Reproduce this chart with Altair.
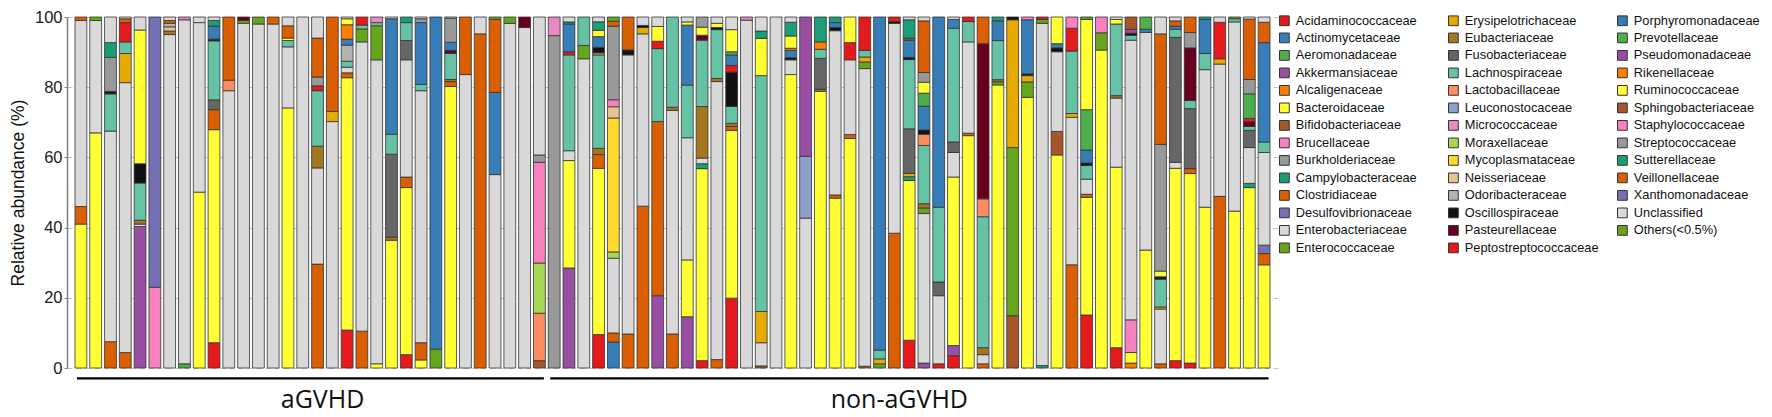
import altair as alt
import pandas as pd

# ---------------- categories ----------------
FAMILIES = [
    "Acidaminococcaceae", "Actinomycetaceae", "Aeromonadaceae", "Akkermansiaceae",
    "Alcaligenaceae", "Bacteroidaceae", "Bifidobacteriaceae", "Brucellaceae",
    "Burkholderiaceae", "Campylobacteraceae", "Clostridiaceae", "Desulfovibrionaceae",
    "Enterobacteriaceae", "Enterococcaceae",
    "Erysipelotrichaceae", "Eubacteriaceae", "Fusobacteriaceae", "Lachnospiraceae",
    "Lactobacillaceae", "Leuconostocaceae", "Micrococcaceae", "Moraxellaceae",
    "Mycoplasmataceae", "Neisseriaceae", "Odoribacteraceae", "Oscillospiraceae",
    "Pasteurellaceae", "Peptostreptococcaceae",
    "Porphyromonadaceae", "Prevotellaceae", "Pseudomonadaceae", "Rikenellaceae",
    "Ruminococcaceae", "Sphingobacteriaceae", "Staphylococcaceae", "Streptococcaceae",
    "Sutterellaceae", "Veillonellaceae", "Xanthomonadaceae", "Unclassified",
    "Others(<0.5%)",
]

PALETTE = [
    "#E41A1C", "#377EB8", "#4DAF4A", "#984EA3", "#FF7F00", "#FFFF33", "#A65628",
    "#F781BF", "#999999", "#1B9E77", "#D95F02", "#7570B3", "#D9D9D9", "#66A61E",
    "#E6AB02", "#A6761D", "#666666", "#66C2A5", "#FC8D62", "#8DA0CB", "#E78AC3",
    "#A6D854", "#FFD92F", "#E5C494", "#B3B3B3", "#111111", "#67001F",
]

N_AGVHD = 32
N_NON = 49
GROUP_NAMES = ["aGVHD", "non-aGVHD"]

# ---------------- per-family abundance (sample number -> %) ----------------
Acidaminococcaceae = {10: 7.2, 19: 10.8, 23: 3.8, 36: 9.7, 43: 2.1, 45: 19.9, 57: 7.9,
                      59: 1.2, 60: 3.5, 69: 15.1, 71: 5.8, 75: 2.1, 76: 1.4}
Actinomycetaceae = {37: 7.4}
Aeromonadaceae = {8: 1.2}
Akkermansiaceae = {5: 40.3, 34: 28.5, 40: 20.6, 42: 14.6, 58: 1.4, 60: 2.9}
Alcaligenaceae = {72: 1.4}
Bacteroidaceae = {1: 41, 2: 67, 9: 50.1, 10: 60.7, 15: 74.1, 19: 71.9, 21: 1.2, 22: 36.4,
                  23: 47.6, 24: 2.3, 26: 80.2, 34: 30.6, 36: 48.2, 42: 16.2, 43: 54.7,
                  45: 47.8, 49: 83.6, 51: 78.8, 52: 48.4, 53: 65.4, 57: 45.4, 60: 48.0,
                  61: 66.2, 63: 80.4, 65: 77.1, 67: 60.7, 69: 33.5, 70: 90.6, 71: 51.4,
                  72: 3.0, 73: 33.6, 75: 54.8, 76: 54.0, 77: 45.8, 79: 44.7, 80: 51.4,
                  81: 29.4}
Bifidobacteriaceae = {32: 2.1, 47: 0.6, 54: 0.5, 64: 14.9, 67: 6.7}
Brucellaceae = {6: 23, 72: 9.3}
Burkholderiaceae = {33: 94.7}
Campylobacteraceae = {43: 1.4, 57: 1.1, 66: 0.7, 80: 1.2}
Clostridiaceae = {1: 5, 3: 7.5, 4: 4.4, 10: 5.7, 17: 29.6, 19: 1.4, 20: 10.5, 23: 3.0,
                  24: 4.9, 26: 1.4, 28: 95.2, 36: 4.0, 37: 2.6, 38: 9.7, 39: 46.1, 40: 49.6,
                  41: 9.7, 44: 2.4, 45: 1.1, 52: 0.9, 53: 1.1, 56: 38.4, 61: 0.7, 62: 1.2,
                  68: 29.4, 69: 0.9, 74: 1.2, 76: 1.4, 78: 48.9, 81: 3.2}
Desulfovibrionaceae = {6: 77, 81: 2.4}
Enterobacteriaceae = {1: 53, 2: 32, 3: 60, 4: 76.9, 5: 0.7, 7: 95, 8: 98, 9: 48.3, 11: 79,
                      12: 98.2, 13: 98, 14: 98, 15: 17.4, 16: 100, 17: 27.4, 18: 70.2,
                      19: 1.6, 20: 82.4, 21: 86.6, 23: 33.4, 24: 71.8, 27: 83.6, 29: 55.1,
                      30: 98.2, 31: 97, 34: 2.8, 35: 88.1, 37: 21.3, 38: 79.5, 39: 49.1,
                      41: 63.7, 42: 34.8, 43: 1.6, 44: 79.2, 46: 99.1, 47: 6.6, 48: 100,
                      49: 4.2, 50: 42.7, 52: 46.8, 53: 21.3, 54: 84.8, 56: 59.8, 58: 42.6,
                      59: 19.4, 60: 7.0, 61: 26.0, 62: 2.6, 66: 97.5, 67: 22.7, 68: 42.0,
                      69: 4.3, 71: 19.7, 72: 79.6, 73: 62.0, 74: 15.6, 75: 1.7, 77: 39.2,
                      78: 37.7, 79: 53.9, 80: 10.2, 81: 26.4}
Enterococcaceae = {12: 0.8, 20: 3.7, 21: 9.7, 25: 5.4, 35: 3.8, 54: 1.9, 55: 1.2, 58: 1.6,
                   63: 0.9, 64: 47.9, 65: 4.4, 66: 1.1, 70: 4.9}
Erysipelotrichaceae = {4: 8.3, 18: 2.9, 39: 1.8, 47: 8.9, 54: 1.4, 55: 1.4, 57: 0.9,
                       64: 36.4, 65: 1.8, 68: 1.1, 74: 0.6, 78: 1.5}
Eubacteriaceae = {5: 1.1, 7: 1, 17: 6.2, 22: 0.9, 26: 0.6, 36: 1.8, 41: 0.9, 43: 14.7,
                  44: 0.9, 45: 0.9, 51: 0.6, 58: 1.2, 62: 2.0, 63: 0.6, 71: 0.7}
Fusobacteriaceae = {10: 2.8, 22: 23.6, 23: 5.5, 51: 8.8, 57: 12.7, 59: 3.9, 60: 3.0,
                    75: 35.6, 76: 17.1, 80: 4.9}
Lachnospiraceae = {3: 10.6, 4: 3.3, 5: 10.6, 10: 16.8, 15: 1.8, 17: 15.8, 19: 1.7, 20: 1.1,
                   21: 0.9, 22: 5.7, 23: 5.1, 24: 1.8, 26: 7.4, 34: 27.3, 35: 8.1, 36: 27.1,
                   40: 20.8, 41: 25.7, 42: 15.0, 43: 18.9, 44: 13.9, 45: 4.8, 47: 67.2,
                   51: 2.6, 54: 1.9, 55: 2.5, 57: 19.7, 58: 16.6, 59: 21.3, 60: 32.4,
                   61: 5.8, 62: 37.3, 63: 11.1, 68: 17.8, 69: 3.9, 71: 20.4, 72: 1.4,
                   74: 7.9, 75: 2.3, 76: 2.3, 77: 4.6, 79: 0.9, 80: 1.1, 81: 3.0}
Lactobacillaceae = {11: 3, 32: 13.5, 36: 0.6, 58: 3.2, 62: 5.1}
Leuconostocaceae = {50: 17.6}
Micrococcaceae = {8: 0.8, 21: 1.6, 33: 5.3, 46: 0.9}
Moraxellaceae = {32: 14.3, 37: 1.8}
Mycoplasmataceae = {37: 38.2}
Neisseriaceae = {7: 1.2, 37: 3.2}
Odoribacteraceae = {7: 1, 19: 4.6}
Oscillospiraceae = {3: 0.7, 5: 5.5, 10: 0.5, 36: 1.6, 38: 1.4, 39: 0.6, 44: 0.6, 45: 9.8,
                    49: 0.6, 52: 0.9, 56: 0.5, 57: 0.6, 58: 1.2, 64: 0.8, 65: 0.5, 67: 1.1,
                    69: 0.7, 72: 0.6, 74: 0.7}
Pasteurellaceae = {12: 1.0, 26: 0.9, 31: 3, 43: 1.4, 62: 44.2, 76: 15.0, 80: 1.4}
Peptostreptococcaceae = {4: 5.5, 17: 1.4, 20: 2.3, 34: 0.9, 40: 2.1, 45: 1.9, 53: 4.9,
                         54: 9.5, 56: 1.3, 61: 1.3, 66: 0.7, 68: 6.5, 78: 10.4, 80: 0.9}
Porphyromonadaceae = {10: 3.7, 19: 1.7, 22: 32.9, 24: 17.6, 25: 94.6, 26: 2.3, 29: 23.4,
                      34: 7.9, 36: 3.1, 42: 17.1, 45: 3.0, 49: 2.1, 52: 1.4, 55: 94.9,
                      57: 4.9, 58: 6.8, 59: 54.2, 60: 2.5, 63: 5.6, 65: 15.4, 67: 1.2,
                      69: 3.7, 73: 0.9, 75: 0.9, 77: 9.7, 81: 28.3}
Prevotellaceae = {45: 0.9, 58: 3.7, 69: 11.5, 73: 3.5, 80: 7.0}
Pseudomonadaceae = {50: 39.7, 72: 1.1}
Rikenellaceae = {19: 4.1, 49: 0.6, 51: 2.1}
Ruminococcaceae = {5: 38.1, 15: 0.7, 19: 1.7, 36: 1.8, 40: 4.2, 42: 0.9, 43: 2.3, 44: 1.2,
                   45: 6.3, 47: 10.6, 49: 3.5, 53: 7.3, 58: 3.1, 67: 7.6, 69: 25.7, 71: 1.3,
                   74: 1.6}
Sphingobacteriaceae = {57: 0.6, 72: 3.5}
Staphylococcaceae = {32: 28.7, 37: 2.0, 65: 0.8, 68: 3.2, 70: 4.5}
Streptococcaceae = {3: 9.7, 17: 2.5, 24: 1.1, 26: 6.9, 32: 2.1, 37: 21.0, 43: 2.9, 58: 2.8,
                    74: 36.1, 76: 4.4, 80: 4.1}
Sutterellaceae = {3: 4.2, 10: 1.6, 23: 1.6, 34: 0.6, 36: 2.5, 47: 2.1, 49: 3.9, 51: 7.1,
                  52: 1.6, 57: 5.2, 63: 1.1, 77: 0.7}
Veillonellaceae = {1: 1, 4: 1.1, 7: 0.8, 11: 18, 14: 2, 15: 3.5, 17: 11.1, 18: 26.9,
                   27: 16.4, 29: 20.8, 37: 1.4, 38: 9.4, 58: 14.7, 62: 7.6, 74: 31.5,
                   75: 1.5, 76: 4.4, 80: 17.2, 81: 5.8}
Xanthomonadaceae = {}
Unclassified = {3: 7.3, 4: 0.5, 5: 3.7, 7: 1, 9: 1.6, 10: 1.0, 15: 2.5, 17: 6, 19: 0.5,
                22: 0.5, 24: 0.5, 26: 0.3, 28: 4.8, 32: 39.3, 34: 1.4, 36: 1.4, 39: 2.4,
                40: 2.7, 42: 1.4, 44: 1.8, 45: 3.6, 47: 4.0, 49: 1.5, 57: 0.8, 58: 1.1,
                60: 0.7, 71: 0.7, 74: 4.8, 75: 1.1, 78: 1.5, 80: 0.6, 81: 1.5}
Others = {2: 1, 13: 2, 29: 0.7, 30: 1.8, 37: 1.2, 69: 0.7, 79: 0.5}

SERIES = [
    Acidaminococcaceae, Actinomycetaceae, Aeromonadaceae, Akkermansiaceae, Alcaligenaceae,
    Bacteroidaceae, Bifidobacteriaceae, Brucellaceae, Burkholderiaceae, Campylobacteraceae,
    Clostridiaceae, Desulfovibrionaceae, Enterobacteriaceae, Enterococcaceae,
    Erysipelotrichaceae, Eubacteriaceae, Fusobacteriaceae, Lachnospiraceae, Lactobacillaceae,
    Leuconostocaceae, Micrococcaceae, Moraxellaceae, Mycoplasmataceae, Neisseriaceae,
    Odoribacteraceae, Oscillospiraceae, Pasteurellaceae, Peptostreptococcaceae,
    Porphyromonadaceae, Prevotellaceae, Pseudomonadaceae, Rikenellaceae, Ruminococcaceae,
    Sphingobacteriaceae, Staphylococcaceae, Streptococcaceae, Sutterellaceae,
    Veillonellaceae, Xanthomonadaceae, Unclassified, Others,
]

# ---------------- build table ----------------
N = N_AGVHD + N_NON
SAMPLES = ["S%02d" % i for i in range(1, N + 1)]
COLORS = [PALETTE[i % len(PALETTE)] for i in range(len(FAMILIES))]

rows = []
for fi, (fam, vals) in enumerate(zip(FAMILIES, SERIES)):
    for s, v in vals.items():
        rows.append({"sample": SAMPLES[s - 1], "family": fam, "fidx": fi, "raw": v})
df = pd.DataFrame(rows)
df["pct"] = df["raw"] / df.groupby("sample")["raw"].transform("sum") * 100

groups = pd.DataFrame({
    "group": GROUP_NAMES,
    "first": [SAMPLES[0], SAMPLES[N_AGVHD]],
    "last": [SAMPLES[N_AGVHD - 1], SAMPLES[-1]],
    "mid": [SAMPLES[16], SAMPLES[55]],
})

H = 351
xscale = alt.Scale(domain=SAMPLES, paddingInner=0.2, paddingOuter=0.54)

bars = alt.Chart(df).mark_bar(stroke="#333333", strokeWidth=0.8).encode(
    x=alt.X("sample:O", scale=xscale, axis=None),
    y=alt.Y("pct:Q", stack="zero",
            scale=alt.Scale(domain=[0, 100], nice=False),
            axis=alt.Axis(title="Relative abundance (%)", values=[0, 20, 40, 60, 80, 100],
                          grid=True, gridDash=[5, 4], gridColor="#c4c4c4", gridWidth=1,
                          domainColor="#808080", domainWidth=1.5,
                          tickColor="#808080", tickSize=3, labelPadding=2,
                          labelFont="Liberation Sans", labelFontSize=16.5,
                          labelColor="#1a1a1a",
                          titleFont="Liberation Sans", titleFontSize=17.5,
                          titleFontWeight="normal", titleColor="#111111",
                          titleAngle=270, titleX=-49, titleY=H / 2,
                          titleAlign="center", titleBaseline="middle")),
    color=alt.Color("family:N",
                    scale=alt.Scale(domain=FAMILIES, range=COLORS),
                    legend=alt.Legend(title=None, orient="none", legendX=1211, legendY=-3,
                                      direction="vertical", columns=3, gridAlign="all",
                                      columnPadding=16, rowPadding=2.5, symbolLimit=60,
                                      symbolType="square", symbolSize=95,
                                      symbolStrokeColor="#333333", symbolStrokeWidth=1,
                                      symbolOpacity=1, labelFont="Liberation Sans",
                                      labelFontSize=12.8, labelColor="#111111",
                                      labelOffset=5, labelLimit=300, padding=0)),
    order=alt.Order("fidx:Q", sort="ascending"),
)

rules = alt.Chart(groups).mark_rule(color="black", strokeWidth=2.2,
                                     xOffset=-4, x2Offset=4.5).encode(
    x=alt.X("first:O", scale=xscale, axis=None),
    x2="last:O",
    y=alt.value(H + 10.3),
)

labels = alt.Chart(groups).mark_text(font="Open Sans", fontSize=25, color="#111111",
                                      baseline="alphabetic", dx=5).encode(
    x=alt.X("mid:O", scale=xscale, axis=None),
    y=alt.value(H + 40),
    text="group:N",
)

chart = alt.layer(bars, rules, labels).properties(
    width=1211, height=H,
    autosize=alt.AutoSizeParams(type="none"),
    padding={"left": 59, "top": 9, "right": 486, "bottom": 49},
).configure_view(stroke=None)

chart.save("out.html", embed_options={"renderer": "svg", "actions": False})
